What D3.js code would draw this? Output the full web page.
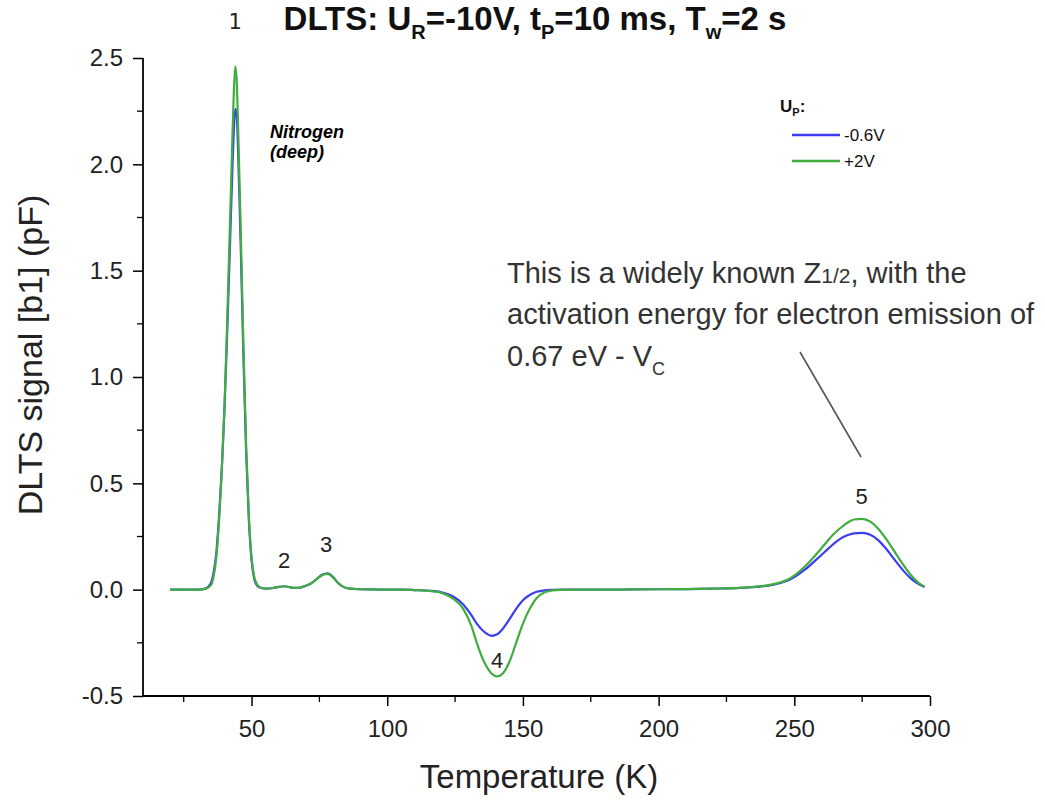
<!DOCTYPE html>
<html>
<head>
<meta charset="utf-8">
<script src="https://cdn.jsdelivr.net/npm/d3@7"></script>
<style>
  html, body { margin: 0; padding: 0; background: #fff; }
  svg { display: block; }
</style>
</head>
<body>
<svg id="chart" width="1045" height="800"></svg>
<script>
// ---- Data ----
const temperature = [20, 25, 30, 33, 35, 36, 37, 38, 39, 40, 41, 42, 43, 43.5, 44, 44.5, 45, 46, 47, 48, 49, 50, 51, 52, 53, 55, 58, 60, 62, 64, 66, 68, 70, 72, 74, 76, 78, 80, 82, 84, 86, 90, 95, 100, 105, 110, 115, 120, 124, 128, 131, 133, 135, 137, 138.5, 140.5, 142.5, 145, 147.5, 150, 152.5, 155, 158, 161, 165, 170, 180, 190, 200, 210, 220, 230, 236, 242, 248, 254, 258, 261, 264, 267, 270, 272, 275, 278, 281, 284, 287, 290, 293, 296, 298];

const signalBlue = [0, 0, 0, 0.005, 0.03, 0.08, 0.17, 0.34, 0.56, 0.84, 1.20, 1.60, 2.00, 2.17, 2.26, 2.24, 2.08, 1.62, 1.10, 0.65, 0.33, 0.14, 0.05, 0.02, 0.01, 0.005, 0.008, 0.013, 0.016, 0.012, 0.008, 0.010, 0.018, 0.030, 0.050, 0.070, 0.077, 0.060, 0.030, 0.012, 0.005, 0.002, 0.001, 0, 0, -0.002, -0.005, -0.012, -0.03, -0.07, -0.12, -0.16, -0.19, -0.21, -0.217, -0.21, -0.185, -0.14, -0.09, -0.05, -0.025, -0.01, -0.003, -0.001, 0, 0, 0, 0.001, 0.002, 0.003, 0.005, 0.008, 0.013, 0.022, 0.045, 0.095, 0.14, 0.175, 0.21, 0.24, 0.258, 0.265, 0.267, 0.258, 0.232, 0.19, 0.14, 0.092, 0.052, 0.025, 0.013];

const signalGreen = [0, 0, 0, 0.004, 0.02, 0.06, 0.15, 0.32, 0.55, 0.85, 1.25, 1.70, 2.15, 2.35, 2.46, 2.40, 2.20, 1.70, 1.15, 0.68, 0.35, 0.15, 0.06, 0.025, 0.012, 0.005, 0.008, 0.013, 0.016, 0.012, 0.008, 0.010, 0.018, 0.030, 0.050, 0.068, 0.074, 0.058, 0.030, 0.012, 0.005, 0.002, 0.001, 0, 0, -0.002, -0.005, -0.015, -0.04, -0.09, -0.17, -0.25, -0.32, -0.37, -0.395, -0.408, -0.395, -0.34, -0.25, -0.16, -0.09, -0.04, -0.012, -0.003, -0.001, 0, 0, 0.001, 0.002, 0.003, 0.005, 0.008, 0.014, 0.025, 0.05, 0.11, 0.165, 0.21, 0.255, 0.29, 0.318, 0.33, 0.333, 0.32, 0.285, 0.235, 0.178, 0.12, 0.068, 0.03, 0.014];

const xTicks = [50, 100, 150, 200, 250, 300];
const xMinorTicks = [25, 75, 125, 175, 225, 275];
const yTicks = [-0.5, 0.0, 0.5, 1.0, 1.5, 2.0, 2.5];
const yMinorTicks = [-0.25, 0.25, 0.75, 1.25, 1.75, 2.25];

const seriesNames = ["-0.6V", "+2V"];
const seriesColors = ["#3c3cf2", "#3fae3f"];

const peakLabels = ["1", "2", "3", "4", "5"];
const peakT = [44, 62, 77.5, 140.5, 274.8];
const peakV = [2.68, 0.14, 0.215, -0.33, 0.44];

// ---- Layout ----
const svg = d3.select("#chart");
const x = d3.scaleLinear().domain([10, 300]).range([143, 930]);
const y = d3.scaleLinear().domain([-0.5, 2.5]).range([696, 58]);
const font = "'Liberation Sans', Arial, sans-serif";

// Axes
const fmtY = d => d3.format(".1f")(d).replace("\u2212", "-");
const xAxis = d3.axisBottom(x).tickValues(xTicks).tickSize(10).tickPadding(14).tickFormat(d3.format("d"));
const yAxis = d3.axisLeft(y).tickValues(yTicks).tickSize(10).tickPadding(10).tickFormat(fmtY);

const gx = svg.append("g").attr("transform", `translate(0,${y(-0.5)})`).call(xAxis);
const gy = svg.append("g").attr("transform", `translate(${x(10)},0)`).call(yAxis);

gx.append("g").selectAll("line").data(xMinorTicks).join("line")
  .attr("x1", d => x(d)).attr("x2", d => x(d)).attr("y1", 0).attr("y2", 6)
  .attr("stroke", "#000").attr("stroke-width", 1.3);
gy.append("g").selectAll("line").data(yMinorTicks).join("line")
  .attr("y1", d => y(d)).attr("y2", d => y(d)).attr("x1", 0).attr("x2", -6)
  .attr("stroke", "#000").attr("stroke-width", 1.3);

[gx, gy].forEach(g => {
  g.select(".domain").attr("stroke", "#000").attr("stroke-width", 1.8);
  g.selectAll(".tick line").attr("stroke", "#000").attr("stroke-width", 1.5);
  g.selectAll(".tick text").attr("font-family", font).attr("font-size", 24).attr("fill", "#222");
});
gx.select(".domain").attr("d", `M${x(10)},0H${x(300)}`);
gy.select(".domain").attr("d", `M0,${y(-0.5)}V${y(2.5)}`);

// Lines
const data = [signalBlue, signalGreen];
const line = d3.line()
  .x((d, i) => x(temperature[i]))
  .y(d => y(d))
  .curve(d3.curveMonotoneX);

svg.append("g").selectAll("path").data(data).join("path")
  .attr("d", d => line(d))
  .attr("fill", "none")
  .attr("stroke", (d, i) => seriesColors[i])
  .attr("stroke-width", 2.2)
  .attr("stroke-linejoin", "round");

// Axis titles
svg.append("text")
  .attr("x", 539).attr("y", 788)
  .attr("text-anchor", "middle")
  .attr("font-family", font).attr("font-size", 33).attr("fill", "#222")
  .text("Temperature (K)");

svg.append("text")
  .attr("transform", `translate(42,${355}) rotate(-90)`)
  .attr("text-anchor", "middle")
  .attr("font-family", font).attr("font-size", 34).attr("fill", "#222")
  .text("DLTS signal [b1] (pF)");

// Title
const title = svg.append("text")
  .attr("x", 535).attr("y", 30)
  .attr("text-anchor", "middle")
  .attr("font-family", font).attr("font-size", 33).attr("font-weight", "bold").attr("fill", "#111");
title.append("tspan").text("DLTS: U");
title.append("tspan").attr("font-size", 20).attr("dy", 9).text("R");
title.append("tspan").attr("dy", -9).text("=-10V, t");
title.append("tspan").attr("font-size", 20).attr("dy", 9).text("P");
title.append("tspan").attr("dy", -9).text("=10 ms, T");
title.append("tspan").attr("font-size", 20).attr("dy", 9).text("w");
title.append("tspan").attr("dy", -9).text("=2 s");

// Peak labels
svg.append("g").selectAll("text").data(peakLabels).join("text")
  .attr("x", (d, i) => x(peakT[i]))
  .attr("y", (d, i) => i === 0 ? 29 : y(peakV[i]) + 8)
  .attr("text-anchor", "middle")
  .attr("font-family", (d, i) => i === 0 ? "'DejaVu Sans', sans-serif" : font)
  .attr("font-size", (d, i) => i === 0 ? 21 : 22)
  .attr("fill", "#222")
  .text(d => d);

// Nitrogen annotation
const nit = svg.append("text")
  .attr("font-family", font).attr("font-size", 18)
  .attr("font-weight", "bold").attr("font-style", "italic").attr("fill", "#000");
nit.append("tspan").attr("x", 270).attr("y", 138).text("Nitrogen");
nit.append("tspan").attr("x", 270).attr("y", 158).text("(deep)");

// Legend
const lg = svg.append("g");
const lgT = lg.append("text").attr("x", 780).attr("y", 112)
  .attr("font-family", font).attr("font-size", 17).attr("font-weight", "bold").attr("fill", "#111");
lgT.append("tspan").text("U");
lgT.append("tspan").attr("font-size", 11).attr("dy", 4).text("P");
lgT.append("tspan").attr("dy", -4).text(":");
seriesNames.forEach((name, i) => {
  const yy = 135 + i * 26;
  lg.append("line").attr("x1", 792).attr("x2", 840).attr("y1", yy).attr("y2", yy)
    .attr("stroke", seriesColors[i]).attr("stroke-width", 2.4);
  lg.append("text").attr("x", 844).attr("y", yy + 6)
    .attr("font-family", font).attr("font-size", 17).attr("fill", "#111").text(name);
});

// Z1/2 annotation
const ann = svg.append("g").attr("font-family", font).attr("font-size", 29).attr("fill", "#333");
const l1 = ann.append("text").attr("x", 507).attr("y", 283);
l1.append("tspan").text("This is a widely known Z");
l1.append("tspan").attr("font-size", 21).text("1/2");
l1.append("tspan").text(", with the");
ann.append("text").attr("x", 507).attr("y", 324).text("activation energy for electron emission of");
const l3 = ann.append("text").attr("x", 507).attr("y", 366);
l3.append("tspan").text("0.67 eV - V");
l3.append("tspan").attr("font-size", 18).attr("dy", 9).text("C");

svg.append("line")
  .attr("x1", 800).attr("y1", 352).attr("x2", 861).attr("y2", 457)
  .attr("stroke", "#555").attr("stroke-width", 1.6);
</script>
</body>
</html>
